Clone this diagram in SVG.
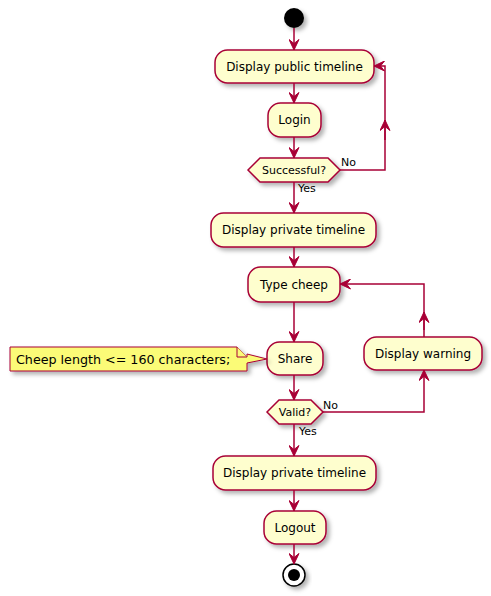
<svg xmlns="http://www.w3.org/2000/svg" width="491" height="596" viewBox="0 0 491 596">
<style>
.act{fill:#FEFECE;stroke:#A80036;stroke-width:1.5;filter:url(#sh)}
.t{font-family:"DejaVu Sans",sans-serif;font-size:12px;fill:#000;text-anchor:middle}
.s{font-family:"DejaVu Sans",sans-serif;font-size:11px;fill:#000}
.n{font-family:"DejaVu Sans",sans-serif;font-size:12.7px;fill:#000}
.ln{fill:none;stroke:#A80036;stroke-width:1.5}
</style>
<defs>
<filter id="sh" x="-20%" y="-30%" width="150%" height="180%">
<feDropShadow dx="3" dy="3" stdDeviation="2" flood-color="#000" flood-opacity="0.3"/>
</filter>
<marker id="ar" markerUnits="userSpaceOnUse" markerWidth="12" markerHeight="11" refX="11" refY="5.5" orient="auto" viewBox="0 0 12 11">
<path d="M0.5,0.5 L11,5.5 L0.5,10.5 L4.5,5.5 Z" fill="#A80036" stroke="#A80036" stroke-width="1"/>
</marker>
</defs>
<rect width="491" height="596" fill="#FFFFFF"/>
<g id="start"><circle cx="294" cy="18" r="10" fill="#000" filter="url(#sh)"/></g>
<g id="display-public"><rect class="act" x="215" y="50" width="159" height="33" rx="12.5"/><text class="t" x="294.5" y="71">Display public timeline</text></g>
<g id="login"><rect class="act" x="268" y="103" width="53" height="34" rx="12.5"/><text class="t" x="294.5" y="124">Login</text></g>
<g id="successful"><polygon class="act" points="248,170 260,158 328,158 340,170 328,182 260,182"/><text class="s" x="294" y="174" text-anchor="middle">Successful?</text></g>
<g id="display-private-1"><rect class="act" x="211" y="213" width="165" height="34" rx="12.5"/><text class="t" x="293.5" y="234">Display private timeline</text></g>
<g id="type-cheep"><rect class="act" x="248" y="267" width="92" height="35" rx="12.5"/><text class="t" x="294" y="289">Type cheep</text></g>
<g id="share"><rect class="act" x="267" y="342" width="56" height="33" rx="12.5"/><text class="t" x="295" y="363">Share</text></g>
<g id="note"><path d="M10,347 L237,347 L247,357 L247,354 L267,359 L247,363 L247,371 L10,371 Z" fill="#FBFB77" stroke="#A80036" stroke-width="1" filter="url(#sh)"/><path d="M237,347 L237,357 L247,357" fill="#FBFB77" stroke="#A80036" stroke-width="1"/><text class="n" x="16" y="364">Cheep length &lt;= 160 characters;</text></g>
<g id="display-warning"><rect class="act" x="364" y="337" width="118" height="33" rx="12.5"/><text class="t" x="423" y="358">Display warning</text></g>
<g id="valid"><polygon class="act" points="267,412 279,400 311,400 323,412 311,424 279,424"/><text class="s" x="295" y="416" text-anchor="middle">Valid?</text></g>
<g id="display-private-2"><rect class="act" x="213" y="456" width="163" height="34" rx="12.5"/><text class="t" x="294.5" y="477">Display private timeline</text></g>
<g id="logout"><rect class="act" x="264" y="511" width="62" height="33" rx="12.5"/><text class="t" x="295" y="532">Logout</text></g>
<g id="end"><circle cx="294" cy="575" r="11" fill="#FFFFFF" stroke="#000" stroke-width="1.5" filter="url(#sh)"/><circle cx="294" cy="575" r="6" fill="#000"/></g>
<g id="connectors">
<path class="ln" d="M294,28 L294,50" marker-end="url(#ar)"/>
<path class="ln" d="M294,83 L294,103" marker-end="url(#ar)"/>
<path class="ln" d="M294,137 L294,158" marker-end="url(#ar)"/>
<path class="ln" d="M340,170 L385,170 L385,66 L374,66" marker-end="url(#ar)"/>
<path class="ln" d="M385,140 L385,120" marker-end="url(#ar)"/>
<path class="ln" d="M294,182 L294,213" marker-end="url(#ar)"/>
<path class="ln" d="M294,247 L294,267" marker-end="url(#ar)"/>
<path class="ln" d="M294,302 L294,342" marker-end="url(#ar)"/>
<path class="ln" d="M294,375 L294,400" marker-end="url(#ar)"/>
<path class="ln" d="M323,412 L424,412 L424,370" marker-end="url(#ar)"/>
<path class="ln" d="M424,337 L424,284 L340,284" marker-end="url(#ar)"/>
<path class="ln" d="M424,330 L424,312" marker-end="url(#ar)"/>
<path class="ln" d="M294,424 L294,456" marker-end="url(#ar)"/>
<path class="ln" d="M294,490 L294,511" marker-end="url(#ar)"/>
<path class="ln" d="M294,544 L294,564" marker-end="url(#ar)"/>
<text class="s" x="341" y="166">No</text>
<text class="s" x="298" y="192">Yes</text>
<text class="s" x="323" y="409">No</text>
<text class="s" x="299" y="435">Yes</text>
</g>
</svg>
